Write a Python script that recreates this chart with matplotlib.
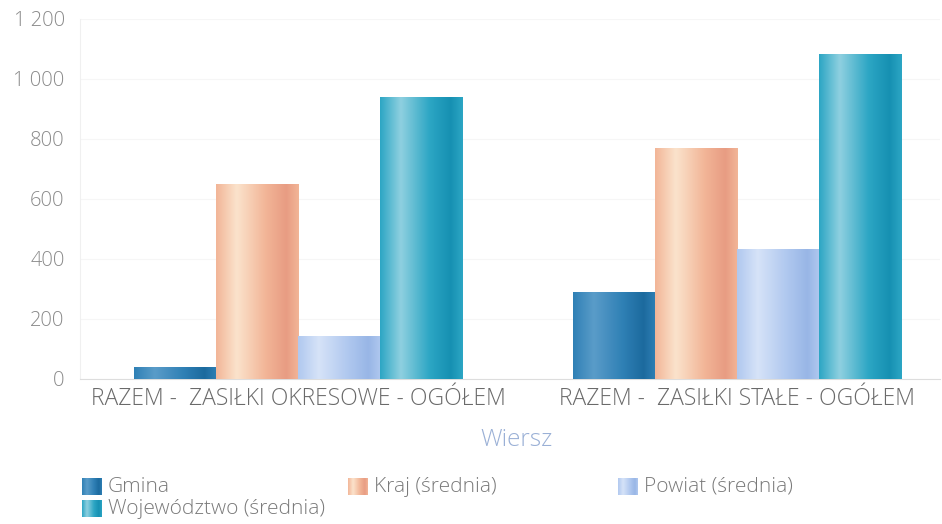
import numpy as np
import matplotlib
matplotlib.use("Agg")
import matplotlib.pyplot as plt
from matplotlib.colors import LinearSegmentedColormap

plt.rcParams['font.family'] = ['Open Sans', 'DejaVu Sans']

# Dane
categories = ["RAZEM -  ZASIŁKI OKRESOWE - OGÓŁEM", "RAZEM -  ZASIŁKI STAŁE - OGÓŁEM"]
series = ["Gmina", "Kraj (średnia)", "Powiat (średnia)", "Województwo (średnia)"]
gmina = [40, 287]
kraj = [647, 770]
powiat = [143, 433]
wojewodztwo = [937, 1080]
yticks = [0, 200, 400, 600, 800, 1000, 1200]
ytick_labels = ["0", "200", "400", "600", "800", "1 000", "1 200"]

values = [gmina, kraj, powiat, wojewodztwo]
# kolory: (jasny, bazowy, ciemny)
palette = [
    ("#5a9cc9", "#2f80b5", "#1c6a9e"),
    ("#fbe3cc", "#f2b597", "#e89c83"),
    ("#d6e3f8", "#b0c8ef", "#98b6e6"),
    ("#8fd0e0", "#2ca6c4", "#1690b2"),
]
cmaps = [LinearSegmentedColormap.from_list(
    f"g{i}", [(0, c[1]), (0.25, c[0]), (0.6, c[1]), (0.85, c[2]), (1, c[1])])
    for i, c in enumerate(palette)]
grad = np.linspace(0, 1, 256).reshape(1, -1)

fig = plt.figure(figsize=(9.42, 5.24), dpi=100)
ax = fig.add_axes([80 / 942, 1 - 379 / 524, 860 / 942, 360 / 524])

x = np.arange(len(categories))
width = 0.1875

for i, vals in enumerate(values):
    bars = ax.bar(x + (i - 1.5) * width, vals, width, color=palette[i][1], zorder=2)
    for b in bars:
        ax.imshow(grad, extent=[b.get_x(), b.get_x() + b.get_width(), 0, b.get_height()],
                  aspect='auto', cmap=cmaps[i], zorder=3, interpolation='bicubic')

ax.set_xlim(-0.497, 1.462)
ax.set_ylim(0, 1200)
ax.set_yticks(yticks)
ax.set_yticklabels(ytick_labels, fontweight='light')
ax.set_xticks(x)
ax.set_xticklabels(categories, fontweight='light')
ax.tick_params(axis='y', length=0, labelsize=14.5, labelcolor="#8a8a8a", pad=11)
ax.tick_params(axis='x', length=0, labelsize=16.5, labelcolor="#6a6a6a", pad=6)
ax.grid(axis='y', color="#f6f6f6", linewidth=0.8, zorder=0)
for s in ["top", "right"]:
    ax.spines[s].set_visible(False)
ax.spines["left"].set_color("#f0f0f0")
ax.spines["bottom"].set_color("#dddddd")
ax.set_xlabel("Wiersz", fontsize=17.5, color="#9ab0d6", fontweight='light', labelpad=8)
ax.xaxis.set_label_coords((517 - 80) / 860, -0.137)

# Legenda (osie w pikselach)
lax = fig.add_axes([0, 0, 1, 1], zorder=-1)
lax.axis('off')
leg_pos = [(82, 487), (348, 487), (618, 487), (82, 509)]
for (lx, ly), name, cm in zip(leg_pos, series, cmaps):
    lax.imshow(grad, extent=[lx, lx + 20, ly + 8.5, ly - 8.5], aspect='auto', cmap=cm,
               interpolation='bicubic')
    lax.text(lx + 26, ly, name, fontsize=15, color="#7a7a7a", va='center',
             fontweight='light')
lax.set_xlim(0, 942)
lax.set_ylim(524, 0)

fig.savefig("out.png", dpi=100)
